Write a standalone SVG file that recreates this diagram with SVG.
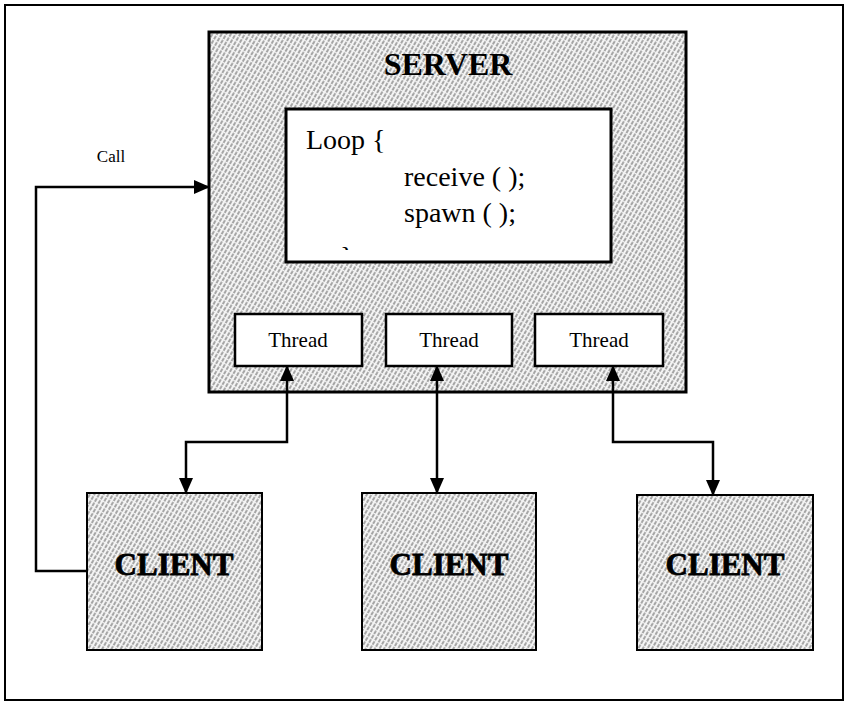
<svg xmlns="http://www.w3.org/2000/svg" width="845" height="701" viewBox="0 0 845 701">
  <defs>
    <!-- fine diagonal hatching used for the server and client boxes -->
    <pattern id="hatch" width="4" height="5" patternUnits="userSpaceOnUse" patternTransform="rotate(30)">
      <rect width="4" height="5" fill="#f4f4f4"/>
      <line x1="1" y1="0" x2="1" y2="5" stroke="#444" stroke-width="0.9" stroke-dasharray="2 1.2"/>
    </pattern>
    <marker id="arrow" markerUnits="userSpaceOnUse" markerWidth="16" markerHeight="16" viewBox="0 0 16 16" refX="15" refY="8" orient="auto-start-reverse">
      <path d="M0,1 L16,8 L0,15 Z" fill="#000"/>
    </marker>
    <clipPath id="codeClip">
      <rect x="286" y="109" width="325" height="141"/>
    </clipPath>
    <style>
      .box { stroke: #000; }
      .hatched { fill: url(#hatch); }
      .plain { fill: #fff; }
      .conn { fill: none; stroke: #000; stroke-width: 2.5; }
      .serif { font-family: "Liberation Serif", "Times New Roman", serif; fill: #000; }
      .title { font-weight: bold; font-size: 32px; text-anchor: middle; }
      .client { font-weight: bold; font-size: 31px; text-anchor: middle; stroke: #000; stroke-width: 0.8; }
      .code { font-size: 28px; }
      .thread { font-size: 21px; text-anchor: middle; }
      .label { font-size: 17px; text-anchor: middle; }
    </style>
  </defs>

  <rect width="845" height="701" fill="#fff"/>
  <!-- page frame -->
  <rect x="5" y="5" width="838" height="695" fill="none" stroke="#000" stroke-width="2"/>

  <g id="server">
    <rect class="box hatched" x="209" y="32" width="477" height="360" stroke-width="3"/>
    <text class="serif title" x="448" y="75">SERVER</text>
  </g>

  <g id="loop">
    <rect class="box plain" x="286" y="109" width="325" height="153" stroke-width="3"/>
    <g clip-path="url(#codeClip)">
      <text class="serif code" x="306" y="149">Loop {</text>
      <text class="serif code" x="404" y="186">receive ( );</text>
      <text class="serif code" x="404" y="222">spawn ( );</text>
      <text class="serif code" x="340" y="266">}</text>
    </g>
  </g>

  <g id="thread1">
    <rect class="box plain" x="235" y="314" width="127" height="52" stroke-width="2.5"/>
    <text class="serif thread" x="298" y="347">Thread</text>
  </g>
  <g id="thread2">
    <rect class="box plain" x="386" y="314" width="126" height="52" stroke-width="2.5"/>
    <text class="serif thread" x="449" y="347">Thread</text>
  </g>
  <g id="thread3">
    <rect class="box plain" x="535" y="314" width="128" height="52" stroke-width="2.5"/>
    <text class="serif thread" x="599" y="347">Thread</text>
  </g>

  <g id="client1">
    <rect class="box hatched" x="87" y="493" width="175" height="157" stroke-width="2"/>
    <text class="serif client" x="174" y="575">CLIENT</text>
  </g>
  <g id="client2">
    <rect class="box hatched" x="362" y="493" width="174" height="157" stroke-width="2"/>
    <text class="serif client" x="449" y="575">CLIENT</text>
  </g>
  <g id="client3">
    <rect class="box hatched" x="637" y="495" width="176" height="155" stroke-width="2"/>
    <text class="serif client" x="725" y="575">CLIENT</text>
  </g>

  <g id="connectors">
    <path class="conn" d="M287,366 V442 H186 V493" marker-start="url(#arrow)" marker-end="url(#arrow)"/>
    <path class="conn" d="M437,366 V493" marker-start="url(#arrow)" marker-end="url(#arrow)"/>
    <path class="conn" d="M613,366 V442 H713 V495" marker-start="url(#arrow)" marker-end="url(#arrow)"/>
    <path class="conn" d="M87,571 H36 V187 H209" marker-end="url(#arrow)"/>
    <text class="serif label" x="111" y="162">Call</text>
  </g>
</svg>
